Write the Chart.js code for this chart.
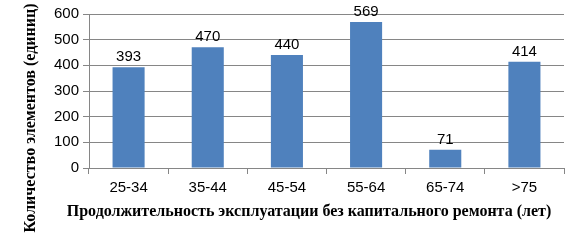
<!DOCTYPE html>
<html>
<head>
<meta charset="utf-8">
<script src="https://cdn.jsdelivr.net/npm/chart.js@4"></script>
<style>
  html, body { margin: 0; padding: 0; background: #fff; }
  #wrap { width: 576px; height: 241px; }
</style>
</head>
<body>
<div id="wrap"><canvas id="chart" width="576" height="241"></canvas></div>
<script>
// Chart data
var categories = ['25-34', '35-44', '45-54', '55-64', '65-74', '>75'];
var counts = [393, 470, 440, 569, 71, 414];
var yTicks = [0, 100, 200, 300, 400, 500, 600];

var xTitle = 'Продолжительность эксплуатации без капитального ремонта (лет)';
var yTitle = 'Количество элементов (единиц)';

var tickFont = { family: '"Liberation Sans", Arial, sans-serif', size: 15 };
var titleFont = 'bold 16px "Liberation Serif", "Times New Roman", serif';

// value labels above bars
var valueLabels = {
   id: 'valueLabels',
   afterDatasetsDraw: function (chart) {
       var ctx = chart.ctx;
       var meta = chart.getDatasetMeta(0);
       ctx.save();
       ctx.fillStyle = '#000';
       ctx.font = tickFont.size + 'px ' + tickFont.family;
       ctx.textAlign = 'center';
       ctx.textBaseline = 'alphabetic';
       meta.data.forEach(function (bar, i) {
           ctx.fillText(String(counts[i]), bar.x, bar.y - 6);
       });
       ctx.restore();
   }
};

// axis titles placed like the original
var axisTitles = {
   id: 'axisTitles',
   afterDraw: function (chart) {
       var ctx = chart.ctx;
       ctx.save();
       ctx.fillStyle = '#000';
       ctx.font = titleFont;
       ctx.textAlign = 'center';
       ctx.textBaseline = 'middle';
       ctx.fillText(xTitle, 309, 212);
       ctx.translate(31, 118);
       ctx.rotate(-Math.PI / 2);
       ctx.fillText(yTitle, 0, 0);
       ctx.restore();
   }
};

window.onload = function () {
   var ctx = document.getElementById('chart').getContext('2d');
   new Chart(ctx, {
       type: 'bar',
       data: {
           labels: categories,
           datasets: [{
               data: counts,
               backgroundColor: '#4F81BD',
               borderWidth: 0,
               categoryPercentage: 1,
               barPercentage: 0.405
           }]
       },
       options: {
           responsive: false,
           animation: false,
           events: [],
           layout: { padding: { left: 0, right: 12, top: 14, bottom: 0 } },
           plugins: {
               legend: { display: false },
               tooltip: { enabled: false }
           },
           scales: {
               x: {
                   afterFit: function (scale) { scale.height = 73; },
                   grid: {
                       offset: true,
                       drawOnChartArea: false,
                       drawTicks: true,
                       tickLength: 6,
                       color: '#868686'
                   },
                   border: { color: '#868686' },
                   ticks: { color: '#000', font: tickFont, padding: 5, maxRotation: 0 }
               },
               y: {
                   min: 0,
                   max: 600,
                   afterFit: function (scale) { scale.width = 89; },
                   afterBuildTicks: function (scale) {
                       scale.ticks = yTicks.map(function (v) { return { value: v }; });
                   },
                   grid: {
                       color: '#868686',
                       tickLength: 6
                   },
                   border: { color: '#868686' },
                   ticks: { color: '#000', font: tickFont, padding: 4 }
               }
           }
       },
       plugins: [valueLabels, axisTitles]
   });
};
</script>
</body>
</html>
